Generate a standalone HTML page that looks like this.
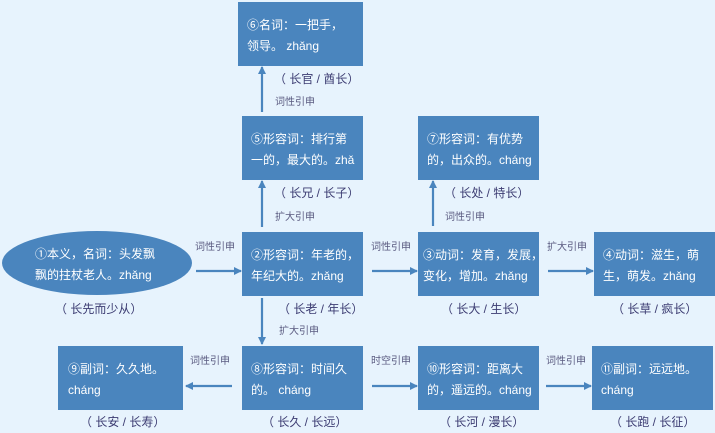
<!DOCTYPE html>
<html><head><meta charset="utf-8"><style>
body{margin:0;width:715px;height:433px;background:#e7f3fd;position:relative;overflow:hidden;font-family:"Liberation Sans","Noto Sans CJK SC",sans-serif}
.b{position:absolute;background:#4a85be;color:#fff;font-size:12px;line-height:21px;padding:13px 0 0 9px;box-sizing:border-box;height:64px;width:121px;white-space:nowrap;overflow:hidden}
.l{position:absolute;font-size:12px;color:#3c3c72;white-space:nowrap}
.s{position:absolute;font-size:10px;color:#5a5a80;white-space:nowrap}
svg{position:absolute;left:0;top:0}
</style></head><body>
<svg width="715" height="433">
<defs><marker id="a" markerWidth="8" markerHeight="8" refX="7" refY="4" orient="auto" markerUnits="userSpaceOnUse"><path d="M0,0 L8,4 L0,8 z" fill="#4a85be"/></marker></defs>
<ellipse cx="97" cy="263" rx="95" ry="32" fill="#4a85be"/>
<g stroke="#4a85be" stroke-width="2.2" fill="none" marker-end="url(#a)">
<line x1="262" y1="112" x2="262" y2="67"/>
<line x1="262" y1="227" x2="262" y2="181"/>
<line x1="262" y1="298" x2="262" y2="344"/>
<line x1="433" y1="226" x2="433" y2="181"/>
<line x1="196" y1="271" x2="241" y2="271"/>
<line x1="372" y1="271" x2="417" y2="271"/>
<line x1="548" y1="271" x2="593" y2="271"/>
<line x1="232" y1="386" x2="186" y2="386"/>
<line x1="372" y1="386" x2="417" y2="386"/>
<line x1="546" y1="386" x2="591" y2="386"/>
</g></svg>
<div class="l" style="left:35px;color:#fff;font-size:12px;line-height:21px;top:244px">①本义，名词：头发飘<br>飘的拄杖老人。zhǎng</div>
<div class="b" style="left:238px;top:2px;width:125px">⑥名词：一把手，<br>领导。 zhǎng</div>
<div class="b" style="left:242px;top:116px">⑤形容词：排行第<br>一的，最大的。zhǎ</div>
<div class="b" style="left:242px;top:232px">②形容词：年老的，<br>年纪大的。zhǎng</div>
<div class="b" style="left:242px;top:346px">⑧形容词：时间久<br>的。 cháng</div>
<div class="b" style="left:58px;top:346px;width:125px;padding-left:10px">⑨副词：久久地。<br>cháng</div>
<div class="b" style="left:418px;top:116px">⑦形容词：有优势<br>的，出众的。cháng</div>
<div class="b" style="left:418px;top:232px;padding-left:5px">③动词：发育，发展，<br>变化，增加。zhǎng</div>
<div class="b" style="left:594px;top:232px">④动词：滋生，萌<br>生，萌发。zhǎng</div>
<div class="b" style="left:418px;top:346px">⑩形容词：距离大<br>的，遥远的。cháng</div>
<div class="b" style="left:592px;top:346px">⑪副词：远远地。<br>cháng</div>
<div class="l" style="left:274px;top:70px">（ 长官 / 酋长）</div>
<div class="s" style="left:275px;top:93px">词性引申</div>
<div class="l" style="left:274px;top:184px">（ 长兄 / 长子）</div>
<div class="s" style="left:275px;top:208px">扩大引申</div>
<div class="l" style="left:55px;top:300px">（ 长先而少从）</div>
<div class="s" style="left:195px;top:238px">词性引申</div>
<div class="l" style="left:278px;top:300px">（ 长老 / 年长）</div>
<div class="s" style="left:279px;top:322px">扩大引申</div>
<div class="l" style="left:80px;top:413px">（ 长安 / 长寿）</div>
<div class="s" style="left:190px;top:352px">词性引申</div>
<div class="l" style="left:262px;top:413px">（ 长久 / 长远）</div>
<div class="s" style="left:371px;top:352px">时空引申</div>
<div class="s" style="left:371px;top:238px">词性引申</div>
<div class="l" style="left:444px;top:184px">（ 长处 / 特长）</div>
<div class="s" style="left:445px;top:208px">词性引申</div>
<div class="l" style="left:441px;top:300px">（ 长大 / 生长）</div>
<div class="s" style="left:547px;top:238px">扩大引申</div>
<div class="l" style="left:612px;top:300px">（ 长草 / 疯长）</div>
<div class="l" style="left:439px;top:413px">（ 长河 / 漫长）</div>
<div class="s" style="left:546px;top:352px">词性引申</div>
<div class="l" style="left:610px;top:413px">（ 长跑 / 长征）</div>
</body></html>
